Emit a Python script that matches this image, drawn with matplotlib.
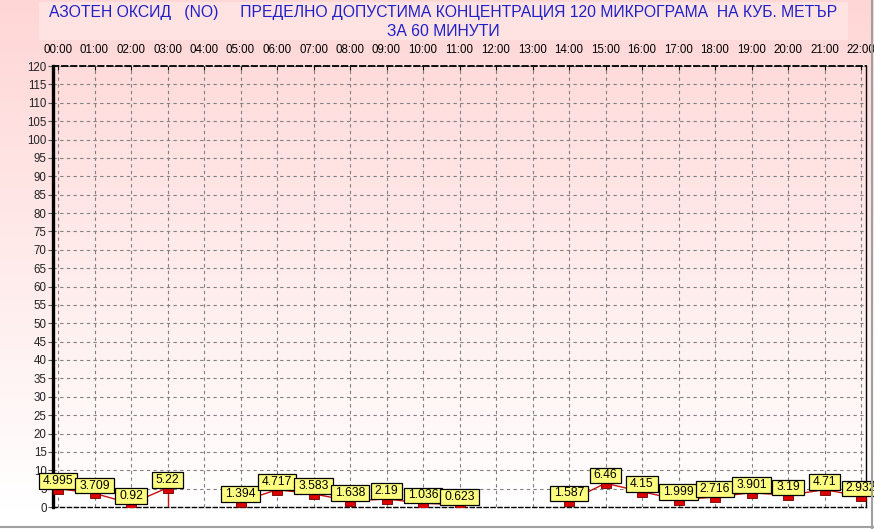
import numpy as np
import matplotlib
matplotlib.use('Agg')
import matplotlib.pyplot as plt
from matplotlib import font_manager
from matplotlib.patches import Rectangle
from matplotlib.lines import Line2D
from matplotlib.path import Path

# ---------------- data ----------------
hours = list(range(23))
hour_labels = [f"{h:02d}:00" for h in hours]
values = [4.995, 3.709, 0.92, 5.22, None, 1.394, 4.717, 3.583, 1.638, 2.19,
          1.036, 0.623, None, None, 1.587, 6.46, 4.15, 1.999, 2.716, 3.901,
          3.19, 4.71, 2.932]
value_labels = ["4.995", "3.709", "0.92", "5.22", "", "1.394", "4.717", "3.583",
                "1.638", "2.19", "1.036", "0.623", "", "", "1.587", "6.46",
                "4.15", "1.999", "2.716", "3.901", "3.19", "4.71", "2.932"]
y_ticks = list(range(0, 121, 5))
title_line1 = "АЗОТЕН ОКСИД   (NO)     ПРЕДЕЛНО ДОПУСТИМА КОНЦЕНТРАЦИЯ 120 МИКРОГРАМА  НА КУБ. МЕТЪР"
title_line2 = "ЗА 60 МИНУТИ"

# ---------------- fonts ----------------
names = {f.name for f in font_manager.fontManager.ttflist}
if 'Liberation Sans Narrow' in names:
    title_font, title_size = 'Liberation Sans Narrow', 13
else:
    title_font, title_size = 'Liberation Sans', 11.3
base_font = 'Liberation Sans'
plt.rcParams['font.family'] = [base_font, 'DejaVu Sans']

W, H = 874, 529
fig = plt.figure(figsize=(W / 100, H / 100), dpi=100)

# background gradient
bg = fig.add_axes([0, 0, 1, 1], zorder=-10)
rows = np.linspace(0, 1, H)
top = np.array([255, 214, 214]) / 255.0
bot = np.array([255, 255, 255]) / 255.0
t = np.clip(rows / (510 / H), 0, 1)[:, None]
grad = top * (1 - t) + bot * t
bg.imshow(grad[:, None, :], aspect='auto', extent=[0, 1, 0, 1], origin='upper')
bg.set_xlim(0, 1); bg.set_ylim(0, 1)
bg.axis('off')

# title box
fig.patches.append(Rectangle((39 / W, 1 - 40 / H), (848 - 39) / W, 38 / H,
                             transform=fig.transFigure, fc='#FFE3E3', ec='none', zorder=-5))
fig.text(443 / W, 1 - 13 / H, title_line1, ha='center', va='center', color='#2020C8',
         fontsize=title_size, family=title_font)
fig.text(443 / W, 1 - 31.5 / H, title_line2, ha='center', va='center', color='#2020C8',
         fontsize=title_size, family=title_font)

# gray border
fig.add_artist(Line2D([0, 1], [2.5 / H, 2.5 / H], transform=fig.transFigure, color='#A0A0A0', lw=1.5))
fig.add_artist(Line2D([871.5 / W, 871.5 / W], [0, 1], transform=fig.transFigure, color='#A0A0A0', lw=1.5))

# main axes
ax = fig.add_axes([53 / W, 22 / H, 813 / W, 441 / H])
ax.set_facecolor('none')
ax.set_xlim(-5 / 36.5, 22 + 5 / 36.5)
ax.set_ylim(0, 120)
ax.set_xticks(hours)
ax.set_xticklabels(hour_labels)
ax.set_yticks(y_ticks)
ax.set_yticklabels([str(v) for v in y_ticks])
ax.xaxis.tick_top()
ax.tick_params(axis='x', direction='in', length=3, width=0.8, pad=7, labelsize=8.3, colors='black')
ax.tick_params(axis='y', direction='out', length=3.6, width=0.8, pad=1, labelsize=8.3,
               color='#555555', labelcolor='#222222')
ax.grid(True, color='#808080', linestyle=(0, (3, 3)), lw=0.8)
ax.set_axisbelow(True)
for side in ['left', 'right', 'top', 'bottom']:
    ax.spines[side].set_color('black')
ax.spines['left'].set_linewidth(2.4)
ax.spines['right'].set_linewidth(1)
ax.spines['top'].set_linewidth(1.3)
ax.spines['top'].set_linestyle((0, (3, 2)))
ax.spines['bottom'].set_linewidth(1)
ax.spines['bottom'].set_linestyle((0, (3, 2)))

# lines (segments of consecutive values)
segments = []
cur = []
for h, v in zip(hours, values):
    if v is None:
        if cur:
            segments.append(cur)
        cur = []
    else:
        cur.append((h, v))
if cur:
    segments.append(cur)
for i, seg in enumerate(segments):
    xs = [p[0] for p in seg]
    ys = [p[1] for p in seg]
    ax.plot(xs, ys, color='#CC1010', lw=1, zorder=3)
    if i < len(segments) - 1:
        ax.plot([xs[-1], xs[-1]], [ys[-1], 0], color='#CC1010', lw=1, zorder=3)

# markers
rect = [(-1, 0), (1, 0), (1, -1), (-1, -1), (-1, 0)]
xv = [h for h, v in zip(hours, values) if v is not None]
yv = [v for v in values if v is not None]
ax.plot(xv, yv, linestyle='none', marker=rect, ms=7.4, mfc='#DD0000', mec='#700000',
        mew=0.6, zorder=4, clip_on=True)


def label_box(x0, y0, width, height, mutation_size):
    px = 0.34 * mutation_size
    py = 0.15 * mutation_size
    x1, y1 = x0 - px, y0 - py
    x2, y2 = x0 + width + px, y0 + height + py
    return Path([(x1, y1), (x2, y1), (x2, y2), (x1, y2), (x1, y1)],
                [Path.MOVETO, Path.LINETO, Path.LINETO, Path.LINETO, Path.CLOSEPOLY])


# value labels
for h, v, lbl in zip(hours, values, value_labels):
    if v is None:
        continue
    ax.annotate(lbl, (h, v), xytext=(0, 1.3), textcoords='offset points', ha='center',
                va='bottom', fontsize=8.7, color='black',
                bbox=dict(boxstyle=label_box, fc='#FFFF80', ec='black', lw=0.9),
                zorder=6, annotation_clip=False)

fig.savefig('out.png', dpi=100)
